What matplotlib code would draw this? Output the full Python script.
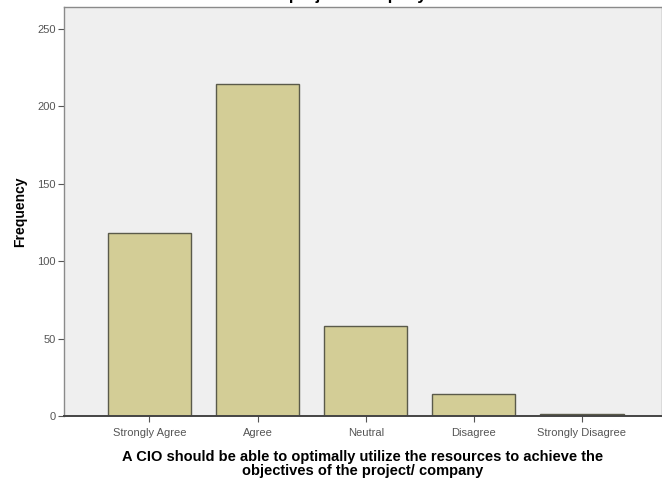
import matplotlib
matplotlib.use("Agg")
import matplotlib.pyplot as plt
import numpy as np

# Data
categories = ['Strongly Agree', 'Agree', 'Neutral', 'Disagree', 'Strongly Disagree']
frequency = [118, 214, 58, 14, 1]
y_ticks = [0, 50, 100, 150, 200, 250]

plt.rcParams['font.family'] = ['Liberation Sans', 'DejaVu Sans']

fig = plt.figure(figsize=(6.62, 4.83), dpi=100)
ax = fig.add_axes([64 / 662, (483 - 416) / 483, 598 / 662, 409 / 483])
ax.set_facecolor('#efefef')

x = np.arange(len(categories))
ax.bar(x, frequency, width=0.77, color='#d3cd96', edgecolor='#5a5a4a', linewidth=1.0)

ax.set_xlim(-0.79, 4.74)
ax.set_ylim(0, 264)
ax.set_yticks(y_ticks)
ax.set_xticks(x)
ax.set_xticklabels(categories, fontsize=8, color='#555555')
ax.set_yticklabels([str(t) for t in y_ticks], fontsize=8, color='#555555')
ax.tick_params(axis='both', direction='out', length=4, width=0.8, color='#555555')
ax.tick_params(axis='x', pad=5)
ax.tick_params(axis='y', pad=2)

for side in ['top', 'right', 'left']:
    ax.spines[side].set_color('#8a8a8a')
    ax.spines[side].set_linewidth(1.0)
ax.spines['bottom'].set_color('#444444')
ax.spines['bottom'].set_linewidth(1.4)

ax.set_ylabel('Frequency', fontsize=10, fontweight='bold', labelpad=7)
ax.set_xlabel('A CIO should be able to optimally utilize the resources to achieve the\n'
              'objectives of the project/ company',
              fontsize=10.5, fontweight='bold', labelpad=8, linespacing=1.0)

# clipped title remnant at the very top
fig.text(333 / 662, 1.01, 'of the project/ company', fontsize=12, fontweight='bold',
         ha='center', va='center')

fig.savefig('out.png', dpi=100, facecolor='white')
